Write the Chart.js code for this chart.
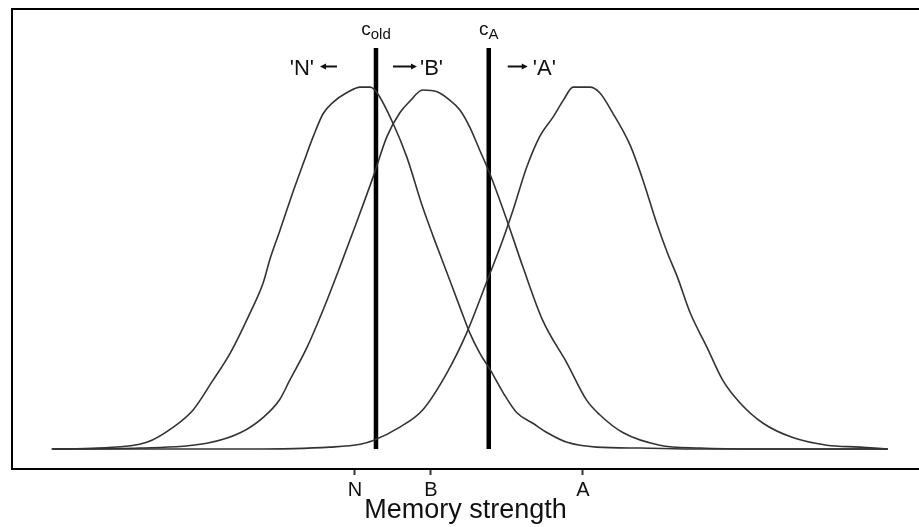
<!DOCTYPE html>
<html><head><meta charset="utf-8">
<script src="https://cdn.jsdelivr.net/npm/chart.js@4"></script>
<style>html,body{margin:0;padding:0;background:#fff;overflow:hidden}canvas{display:block}</style>
</head><body>
<canvas id="c" width="919" height="527"></canvas>
<script>
// ---- data (memory strength units; N = 0, B = 1, A = 3) ----
const tickValues = [0, 1, 3];
const tickLabels = ['N', 'B', 'A'];
const xTitle = 'Memory strength';

const nX = [-3.97, -3.39, -2.74, -2.39, -2.13, -1.87, -1.64, -1.38, -1.21, -1.12, -0.99, -0.82, -0.68, -0.55, -0.42, -0.29, -0.11, 0.07, 0.20, 0.29, 0.50, 0.68, 0.89, 1.03, 1.21, 1.38, 1.51, 1.64, 1.78, 1.95, 2.13, 2.34, 2.53, 2.79, 3.18, 3.75, 4.54, 7.01];
const nY = [0, 0.001, 0.007, 0.023, 0.041, 0.072, 0.101, 0.143, 0.174, 0.199, 0.229, 0.269, 0.300, 0.328, 0.352, 0.364, 0.374, 0.380, 0.380, 0.374, 0.342, 0.307, 0.254, 0.223, 0.185, 0.149, 0.122, 0.101, 0.083, 0.059, 0.038, 0.027, 0.017, 0.007, 0.002, 0.001, 0, 0];

const bX = [-3.99, -2.83, -1.95, -1.51, -1.21, -0.99, -0.86, -0.63, -0.42, -0.20, 0.03, 0.24, 0.42, 0.59, 0.72, 0.89, 1.08, 1.25, 1.38, 1.51, 1.64, 1.78, 2.00, 2.21, 2.47, 2.79, 3.05, 3.22, 3.53, 4.01, 4.54, 5.33, 7.01];
const bY = [0, 0.001, 0.006, 0.017, 0.033, 0.052, 0.072, 0.107, 0.146, 0.191, 0.240, 0.286, 0.328, 0.353, 0.365, 0.377, 0.375, 0.366, 0.356, 0.338, 0.314, 0.288, 0.240, 0.191, 0.135, 0.090, 0.051, 0.036, 0.017, 0.004, 0.001, 0, 0];

const aX = [-3.99, -1.38, -0.33, 0.07, 0.24, 0.59, 0.89, 1.21, 1.47, 1.75, 1.91, 2.08, 2.26, 2.43, 2.61, 2.74, 2.87, 3.09, 3.22, 3.39, 3.62, 3.79, 3.97, 4.11, 4.24, 4.41, 4.63, 4.84, 5.07, 5.37, 5.76, 6.21, 6.64, 7.01];
const aY = [0, 0, 0.002, 0.005, 0.009, 0.023, 0.041, 0.080, 0.122, 0.179, 0.212, 0.251, 0.296, 0.328, 0.349, 0.366, 0.380, 0.380, 0.374, 0.353, 0.319, 0.282, 0.237, 0.206, 0.181, 0.143, 0.107, 0.072, 0.048, 0.027, 0.012, 0.004, 0.002, 0];

const cutoffValues = [0.276, 1.76];
const cutoffTop = 0.421;
const cutoffNames = [['c', 'old'], ['c', 'A']];
const responseLabels = ["'N'", "'B'", "'A'"];

const xMin = -4.513, xMax = 7.421, yMin = -0.021, yMax = 0.462;

const pts = (xs, ys) => xs.map((x, i) => ({x, y: ys[i]}));
const curve = (xs, ys) => ({
  data: pts(xs, ys), borderColor: '#333', borderWidth: 1.6, pointRadius: 0,
  fill: false, cubicInterpolationMode: 'monotone'
});
const cutLine = v => ({
  data: [{x: v, y: 0}, {x: v, y: cutoffTop}], borderColor: '#000', borderWidth: 4.5,
  pointRadius: 0, fill: false, borderCapStyle: 'butt'
});

const FONT = '"Liberation Sans", Arial, sans-serif';

function arrow(ctx, x1, x2, y) {
  const dir = Math.sign(x2 - x1);
  ctx.beginPath(); ctx.moveTo(x1, y); ctx.lineTo(x2 - dir * 3, y); ctx.stroke();
  ctx.beginPath(); ctx.moveTo(x2, y); ctx.lineTo(x2 - dir * 6, y - 3); ctx.lineTo(x2 - dir * 6, y + 3); ctx.closePath(); ctx.fill();
}

const annot = {
  id: 'annot',
  afterDraw(chart) {
    const ctx = chart.ctx, a = chart.chartArea, xs = chart.scales.x;
    ctx.save();
    ctx.strokeStyle = '#000'; ctx.lineWidth = 2;
    ctx.strokeRect(a.left, a.top, a.right - a.left + 4, a.bottom - a.top);
    ctx.fillStyle = '#111'; ctx.strokeStyle = '#111';
    const cp = cutoffValues.map(v => xs.getPixelForValue(v));
    cutoffNames.forEach((nm, i) => {
      ctx.font = '19px ' + FONT; const w1 = ctx.measureText(nm[0]).width;
      ctx.font = '15px ' + FONT; const w2 = ctx.measureText(nm[1]).width;
      const x0 = cp[i] - (w1 + w2) / 2;
      ctx.textBaseline = 'alphabetic'; ctx.textAlign = 'left';
      ctx.font = '19px ' + FONT; ctx.fillText(nm[0], x0, a.top + 26);
      ctx.font = '15px ' + FONT; ctx.fillText(nm[1], x0 + w1, a.top + 30);
    });
    const ry = a.top + 57.5;
    ctx.lineWidth = 2;
    ctx.font = '22px ' + FONT; ctx.textBaseline = 'alphabetic';
    ctx.textAlign = 'right'; ctx.fillText(responseLabels[0], cp[0] - 62, ry + 8);
    arrow(ctx, cp[0] - 39, cp[0] - 56, ry);
    ctx.textAlign = 'left';
    arrow(ctx, cp[0] + 17, cp[0] + 41, ry);
    ctx.fillText(responseLabels[1], cp[0] + 44, ry + 8);
    arrow(ctx, cp[1] + 19, cp[1] + 39, ry);
    ctx.fillText(responseLabels[2], cp[1] + 44, ry + 8);
    ctx.restore();
  }
};

new Chart(document.getElementById('c'), {
  type: 'line',
  data: {
    datasets: [curve(nX, nY), curve(bX, bY), curve(aX, aY), cutLine(cutoffValues[0]), cutLine(cutoffValues[1])]
  },
  options: {
    responsive: false, animation: false, devicePixelRatio: 1,
    layout: {padding: {left: 12, top: 9, right: 0, bottom: 0}},
    plugins: {legend: {display: false}, tooltip: {enabled: false}},
    scales: {
      x: {
        type: 'linear', min: xMin, max: xMax,
        afterFit: s => { s.height = 58; },
        afterBuildTicks: s => { s.ticks = tickValues.map(v => ({value: v})); },
        grid: {drawOnChartArea: false, drawTicks: true, tickLength: 6, tickWidth: 2, color: '#333'},
        border: {display: false},
        ticks: {
          autoSkip: false, maxRotation: 0, padding: 3, color: '#111',
          font: {family: FONT, size: 20},
          callback: (v) => { const i = tickValues.indexOf(v); return i >= 0 ? tickLabels[i] : ''; }
        },
        title: {display: true, text: xTitle, color: '#111', font: {family: FONT, size: 27}, padding: {top: 0, bottom: 0}}
      },
      y: {type: 'linear', min: yMin, max: yMax, display: false}
    }
  },
  plugins: [annot]
});
</script>
</body></html>
